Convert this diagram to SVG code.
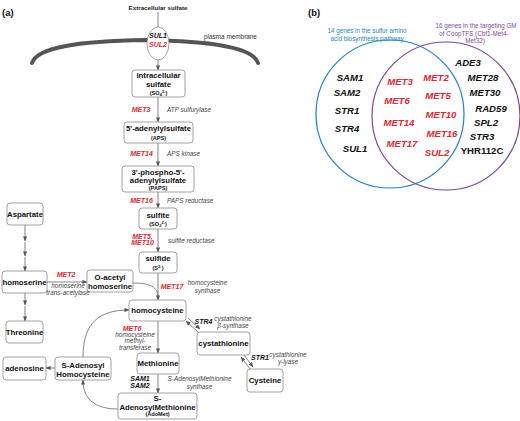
<svg xmlns="http://www.w3.org/2000/svg" width="520" height="421" viewBox="0 0 520 421">
<defs>
<marker id="ah" viewBox="0 0 6 6" refX="5.5" refY="3" markerWidth="5" markerHeight="5" orient="auto" markerUnits="userSpaceOnUse">
<path d="M0,0.5 L6,3 L0,5.5 Z" fill="#555"/>
</marker>
<style>
text{font-family:"Liberation Sans",Arial,sans-serif;}
.box{fill:#fff;stroke:#8a8a8a;stroke-width:0.8;}
.bl{font-size:7.8px;font-weight:bold;fill:#111;text-anchor:middle;}
.sm{font-size:5.6px;font-weight:bold;fill:#111;text-anchor:middle;}
.gr{font-size:7px;font-weight:bold;font-style:italic;fill:#e3262f;}
.gk{font-size:7px;font-weight:bold;font-style:italic;fill:#111;}
.en{font-size:6.4px;font-style:italic;fill:#444;}
.c{stroke:#666;stroke-width:0.8;fill:none;}
.vr{font-size:9.6px;font-weight:bold;font-style:italic;fill:#e3262f;text-anchor:middle;}
.vk{font-size:9.6px;font-weight:bold;font-style:italic;fill:#111;text-anchor:middle;}
.mid{text-anchor:middle;}
</style>
</defs>

<!-- Panel (a) -->
<text x="2" y="16" style="font-size:9.5px;font-weight:bold;fill:#111">(a)</text>
<text x="158" y="9.5" style="font-size:6.2px;font-weight:bold;fill:#222;text-anchor:middle">Extracellular sulfate</text>
<text x="204" y="39" style="font-size:6.4px;fill:#333">plasma membrane</text>

<g id="connectors">
<line class="c" x1="158" y1="12" x2="158" y2="27"/>
<line class="c" x1="158" y1="60" x2="158" y2="70" marker-end="url(#ah)"/>
<line class="c" x1="158" y1="97" x2="158" y2="122" marker-end="url(#ah)"/>
<line class="c" x1="158" y1="143" x2="158" y2="166" marker-end="url(#ah)"/>
<line class="c" x1="158" y1="192" x2="158" y2="208" marker-end="url(#ah)"/>
<line class="c" x1="158" y1="229" x2="158" y2="252" marker-end="url(#ah)"/>
<line class="c" x1="158" y1="273" x2="158" y2="300" marker-end="url(#ah)"/>
<path class="c" d="M133,283 C150,283 158,287 158,297"/>
<line class="c" x1="158" y1="321" x2="158" y2="353" marker-end="url(#ah)"/>
<line class="c" x1="158" y1="374" x2="158" y2="393" marker-end="url(#ah)"/>
<line class="c" x1="25" y1="225" x2="25" y2="241" marker-end="url(#ah)"/>
<line class="c" x1="25" y1="242" x2="25" y2="256" marker-end="url(#ah)"/>
<line class="c" x1="25" y1="257" x2="25" y2="271" marker-end="url(#ah)"/>
<line class="c" x1="25" y1="293" x2="25" y2="305" marker-end="url(#ah)"/>
<line class="c" x1="25" y1="306" x2="25" y2="321" marker-end="url(#ah)"/>
<line class="c" x1="47" y1="282" x2="87" y2="282" marker-end="url(#ah)"/>
<line class="c" x1="188" y1="318" x2="200" y2="329" marker-end="url(#ah)"/>
<line class="c" x1="198" y1="332" x2="186" y2="321" marker-end="url(#ah)"/>
<line class="c" x1="244" y1="355" x2="253" y2="367" marker-end="url(#ah)"/>
<line class="c" x1="250" y1="369" x2="241" y2="357" marker-end="url(#ah)"/>
<path class="c" d="M118,409 C96,409 83,400 83,380" marker-end="url(#ah)"/>
<path class="c" d="M83,357 C83,322 100,310 129,310" marker-end="url(#ah)"/>
<line class="c" x1="55" y1="368" x2="46" y2="368" marker-end="url(#ah)"/>
</g>

<path id="membrane" d="M32,63 C37,47 80,41 145,40 C210,41 253,47 258,63" fill="none" stroke="#555" stroke-width="4" stroke-linecap="round"/>

<g id="transporter">
<ellipse cx="158" cy="43.5" rx="11" ry="16.5" fill="#fff" stroke="#8a8a8a" stroke-width="0.8"/>
<text x="158" y="37.5" class="gk mid">SUL1</text>
<text x="158" y="46.5" class="gr mid">SUL2</text>
</g>

<g id="n-intracellular">
<rect class="box" x="132" y="70" width="53" height="27" rx="3"/>
<text x="158.5" y="78" class="bl">intracellular</text>
<text x="158.5" y="86.5" class="bl">sulfate</text>
<text x="158.5" y="94.5" class="sm">(SO<tspan dy="1.3" font-size="4">4</tspan><tspan dy="-3.3" font-size="4">2-</tspan><tspan dy="2">)</tspan></text>
</g>
<g id="n-aps">
<rect class="box" x="124" y="122" width="69" height="21" rx="3"/>
<text x="158.5" y="131" class="bl">5'-adenylylsulfate</text>
<text x="158.5" y="139.5" class="sm">(APS)</text>
</g>
<g id="n-paps">
<rect class="box" x="122" y="166" width="72" height="26" rx="3"/>
<text x="158" y="174.5" class="bl">3'-phospho-5'-</text>
<text x="158" y="183" class="bl">adenylylsulfate</text>
<text x="158" y="189.8" class="sm">(PAPS)</text>
</g>
<g id="n-sulfite">
<rect class="box" x="139" y="208" width="38" height="21" rx="3"/>
<text x="158" y="217.5" class="bl">sulfite</text>
<text x="158" y="226" class="sm">(SO<tspan dy="1.3" font-size="4">3</tspan><tspan dy="-3.3" font-size="4">2-</tspan><tspan dy="2">)</tspan></text>
</g>
<g id="n-sulfide">
<rect class="box" x="139" y="252" width="38" height="21" rx="3"/>
<text x="158" y="261" class="bl">sulfide</text>
<text x="158" y="269.5" class="sm">(S<tspan dy="-2" font-size="4">2-</tspan><tspan dy="2">)</tspan></text>
</g>
<g id="n-aspartate">
<rect class="box" x="7" y="203" width="36" height="22" rx="3"/>
<text x="25" y="216.5" class="bl">Aspartate</text>
</g>
<g id="n-homoserine">
<rect class="box" x="2" y="271" width="45" height="22" rx="3"/>
<text x="24.5" y="284.8" class="bl">homoserine</text>
</g>
<g id="n-oacetyl">
<rect class="box" x="87" y="270" width="46" height="22" rx="3"/>
<text x="110" y="279.5" class="bl">O-acetyl</text>
<text x="110" y="288.5" class="bl">homoserine</text>
</g>
<g id="n-homocysteine">
<rect class="box" x="129" y="300" width="57" height="21" rx="3"/>
<text x="157.5" y="313.3" class="bl">homocysteine</text>
</g>
<g id="n-threonine">
<rect class="box" x="6" y="321" width="37" height="22" rx="3"/>
<text x="24.5" y="334.8" class="bl">Threonine</text>
</g>
<g id="n-cystathionine">
<rect class="box" x="197" y="332" width="53" height="23" rx="3"/>
<text x="223.5" y="346.3" class="bl">cystathionine</text>
</g>
<g id="n-methionine">
<rect class="box" x="137" y="353" width="42" height="21" rx="3"/>
<text x="158" y="366.3" class="bl">Methionine</text>
</g>
<g id="n-cysteine">
<rect class="box" x="247" y="369" width="36" height="23" rx="3"/>
<text x="265" y="383.3" class="bl">Cysteine</text>
</g>
<g id="n-sah">
<rect class="box" x="55" y="357" width="56" height="23" rx="3"/>
<text x="83" y="367.5" class="bl">S-Adenosyl</text>
<text x="83" y="376.5" class="bl">Homocysteine</text>
</g>
<g id="n-adenosine">
<rect class="box" x="3" y="357" width="43" height="23" rx="3"/>
<text x="24.5" y="371" class="bl">adenosine</text>
</g>
<g id="n-adomet">
<rect class="box" x="118" y="393" width="79" height="26" rx="3"/>
<text x="157.5" y="401" class="bl">S-</text>
<text x="157.5" y="409.5" class="bl">AdenosylMethionine</text>
<text x="157.5" y="416.3" class="sm">(AdoMet)</text>
</g>

<g id="labels">
<text x="141" y="111.5" class="gr mid">MET3</text>
<text x="167" y="111.5" class="en">ATP sulfurylase</text>
<text x="141.5" y="155.5" class="gr mid">MET14</text>
<text x="167" y="155.5" class="en">APS kinase</text>
<text x="141.5" y="202.5" class="gr mid">MET16</text>
<text x="167" y="202.5" class="en">PAPS reductase</text>
<text x="142.5" y="239.3" class="gr mid">MET5,</text>
<text x="142.5" y="245" class="gr mid">MET10</text>
<text x="168" y="242.5" class="en">sulfite reductase</text>
<text x="172" y="288.5" class="gr mid">MET17</text>
<text x="207.5" y="285" class="en mid">homocysteine</text>
<text x="207.5" y="292.5" class="en mid">synthase</text>
<text x="66" y="276.5" class="gr mid">MET2</text>
<text x="68" y="287.5" class="en mid">homoserine</text>
<text x="68" y="294.5" class="en mid">trans-acetylase</text>
<text x="203.5" y="324" class="gk mid">STR4</text>
<text x="233" y="320.5" class="en mid">cystathionine</text>
<text x="233" y="327.5" class="en mid">β-synthase</text>
<text x="132" y="330.5" class="gr mid">MET6</text>
<text x="135" y="336.8" class="en mid">homocysteine</text>
<text x="135" y="343.2" class="en mid">methyl-</text>
<text x="135" y="349.6" class="en mid">transferase</text>
<text x="260" y="360" class="gk mid">STR1</text>
<text x="288" y="356.5" class="en mid">cystathionine</text>
<text x="288" y="363.8" class="en mid">γ-lyase</text>
<text x="140" y="380.5" class="gk mid">SAM1</text>
<text x="140" y="387.5" class="gk mid">SAM2</text>
<text x="199.5" y="381.3" class="en mid">S-AdenosylMethionine</text>
<text x="199.5" y="389" class="en mid">synthase</text>
</g>

<!-- Panel (b) -->
<text x="308" y="16" style="font-size:9.5px;font-weight:bold;fill:#111">(b)</text>
<g id="venn-blue">
<circle cx="390" cy="114" r="74" fill="none" stroke="#1d86c2" stroke-width="1.2"/>
<text x="367" y="33" style="font-size:6.3px;fill:#1d86c2;text-anchor:middle">14 genes in the sulfur amino</text>
<text x="367" y="40.5" style="font-size:6.3px;fill:#1d86c2;text-anchor:middle">acid biosynthesis pathway</text>
</g>
<g id="venn-purple">
<circle cx="446" cy="116" r="74" fill="none" stroke="#7b4a9c" stroke-width="1.2"/>
<text x="476" y="28" style="font-size:6.3px;fill:#7b4a9c;text-anchor:middle">16 genes in the targeting GM</text>
<text x="474" y="35.5" style="font-size:6.3px;fill:#7b4a9c;text-anchor:middle">of CoopTFS (Cbf1-Met4-</text>
<text x="475" y="43" style="font-size:6.3px;fill:#7b4a9c;text-anchor:middle">Met32)</text>
</g>
<g id="venn-genes">
<text x="350" y="80.5" class="vk">SAM1</text>
<text x="347" y="95.5" class="vk">SAM2</text>
<text x="347" y="113.5" class="vk">STR1</text>
<text x="347" y="131.5" class="vk">STR4</text>
<text x="355" y="151.5" class="vk">SUL1</text>
<text x="400" y="84.5" class="vr">MET3</text>
<text x="397" y="103.5" class="vr">MET6</text>
<text x="399" y="125.5" class="vr">MET14</text>
<text x="402" y="146.5" class="vr">MET17</text>
<text x="436" y="80.5" class="vr">MET2</text>
<text x="438" y="98.5" class="vr">MET5</text>
<text x="441" y="117.5" class="vr">MET10</text>
<text x="442" y="136.5" class="vr">MET16</text>
<text x="437" y="155.5" class="vr">SUL2</text>
<text x="468" y="65.5" class="vk">ADE3</text>
<text x="483" y="80.5" class="vk">MET28</text>
<text x="485" y="95.5" class="vk">MET30</text>
<text x="491" y="111.5" class="vk">RAD59</text>
<text x="486" y="125.5" class="vk">SPL2</text>
<text x="482" y="139.5" class="vk">STR3</text>
<text x="482" y="153.5" style="font-size:9.6px;font-weight:bold;fill:#111;text-anchor:middle">YHR112C</text>
</g>
</svg>
